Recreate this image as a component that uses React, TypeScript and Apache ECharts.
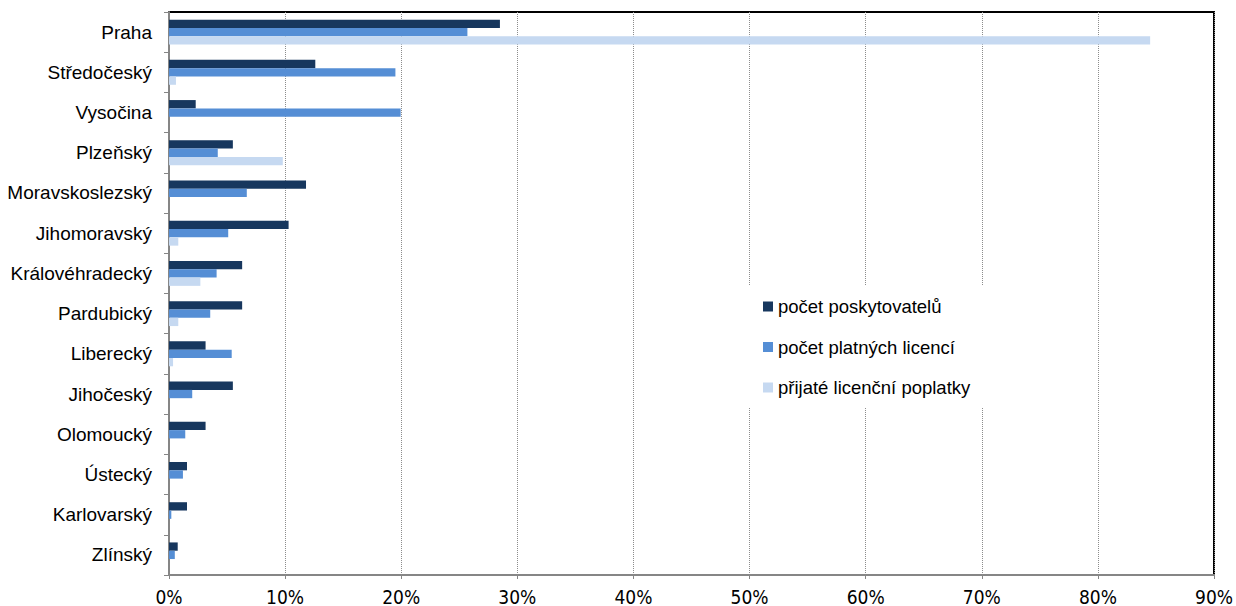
import React, { useEffect, useRef } from "react";
import * as echarts from "echarts";

const categories = [
  "Praha",
  "Středočeský",
  "Vysočina",
  "Plzeňský",
  "Moravskoslezský",
  "Jihomoravský",
  "Královéhradecký",
  "Pardubický",
  "Liberecký",
  "Jihočeský",
  "Olomoucký",
  "Ústecký",
  "Karlovarský",
  "Zlínský",
];

const seriesNames = [
  "počet poskytovatelů",
  "počet platných licencí",
  "přijaté licenční poplatky",
];

const poskytovatelu = [28.5, 12.6, 2.3, 5.5, 11.8, 10.3, 6.3, 6.3, 3.15, 5.5, 3.15, 1.55, 1.55, 0.75];
const licenci = [25.7, 19.5, 19.95, 4.2, 6.7, 5.1, 4.1, 3.55, 5.4, 2.0, 1.4, 1.2, 0.2, 0.5];
const poplatky = [84.5, 0.6, 0, 9.8, 0, 0.8, 2.7, 0.8, 0.35, 0, 0, 0, 0, 0];

const xTicks = [0, 10, 20, 30, 40, 50, 60, 70, 80, 90];

const colors = ["#17375E", "#558ED5", "#C6D9F1"];
const FONT = "'Liberation Sans', Arial, sans-serif";
const NARROW = "'Liberation Sans Narrow', 'Arial Narrow', 'DejaVu Sans Condensed', sans-serif";

export default function App() {
  const ref = useRef<HTMLDivElement>(null);
  useEffect(() => {
    if (!ref.current) return;
    const chart = echarts.init(ref.current, undefined, { renderer: "svg" });
    const data = [poskytovatelu, licenci, poplatky];
    chart.setOption({
      animation: false,
      textStyle: { fontFamily: FONT },
      grid: {
        left: 169,
        right: 20,
        top: 12,
        bottom: 29,
        show: true,
        borderColor: "#000",
        borderWidth: 2,
        backgroundColor: "transparent",
      },
      legend: {
        orient: "vertical",
        left: 745,
        top: 285,
        padding: [12, 40, 10, 18],
        backgroundColor: "#fff",
        itemWidth: 10,
        itemHeight: 10,
        itemGap: 21.5,
        icon: "rect",
        data: seriesNames,
        textStyle: { fontSize: 18.5, color: "#000", fontFamily: FONT },
      },
      xAxis: {
        type: "value",
        min: xTicks[0],
        max: xTicks[xTicks.length - 1],
        interval: 10,
        axisLine: { show: true, lineStyle: { color: "#868686", width: 2 } },
        axisTick: { show: true, length: 4, lineStyle: { color: "#868686", width: 1 } },
        splitLine: { show: true, lineStyle: { color: "#8c8c8c", type: "dotted", width: 1 } },
        axisLabel: {
          formatter: (v: number) => `${v}%`,
          fontSize: 19,
          color: "#000",
          margin: 12,
          fontFamily: NARROW,
        },
      },
      yAxis: {
        type: "category",
        data: categories,
        inverse: true,
        axisLine: { show: true, lineStyle: { color: "#868686", width: 2 } },
        axisTick: { show: true, length: 5, lineStyle: { color: "#868686", width: 1 } },
        splitLine: { show: false },
        axisLabel: {
          fontSize: 19,
          color: "#000",
          margin: 17,
          fontFamily: FONT,
        },
      },
      series: seriesNames.map((name, i) => ({
        name,
        type: "bar",
        data: data[i],
        barGap: "0%",
        barCategoryGap: "38%",
        itemStyle: { color: colors[i] },
      })),
    });
    return () => chart.dispose();
  }, []);
  return (
    <div
      ref={ref}
      style={{ position: "fixed", left: 0, top: 0, width: 1236, height: 606, background: "#fff" }}
    />
  );
}
